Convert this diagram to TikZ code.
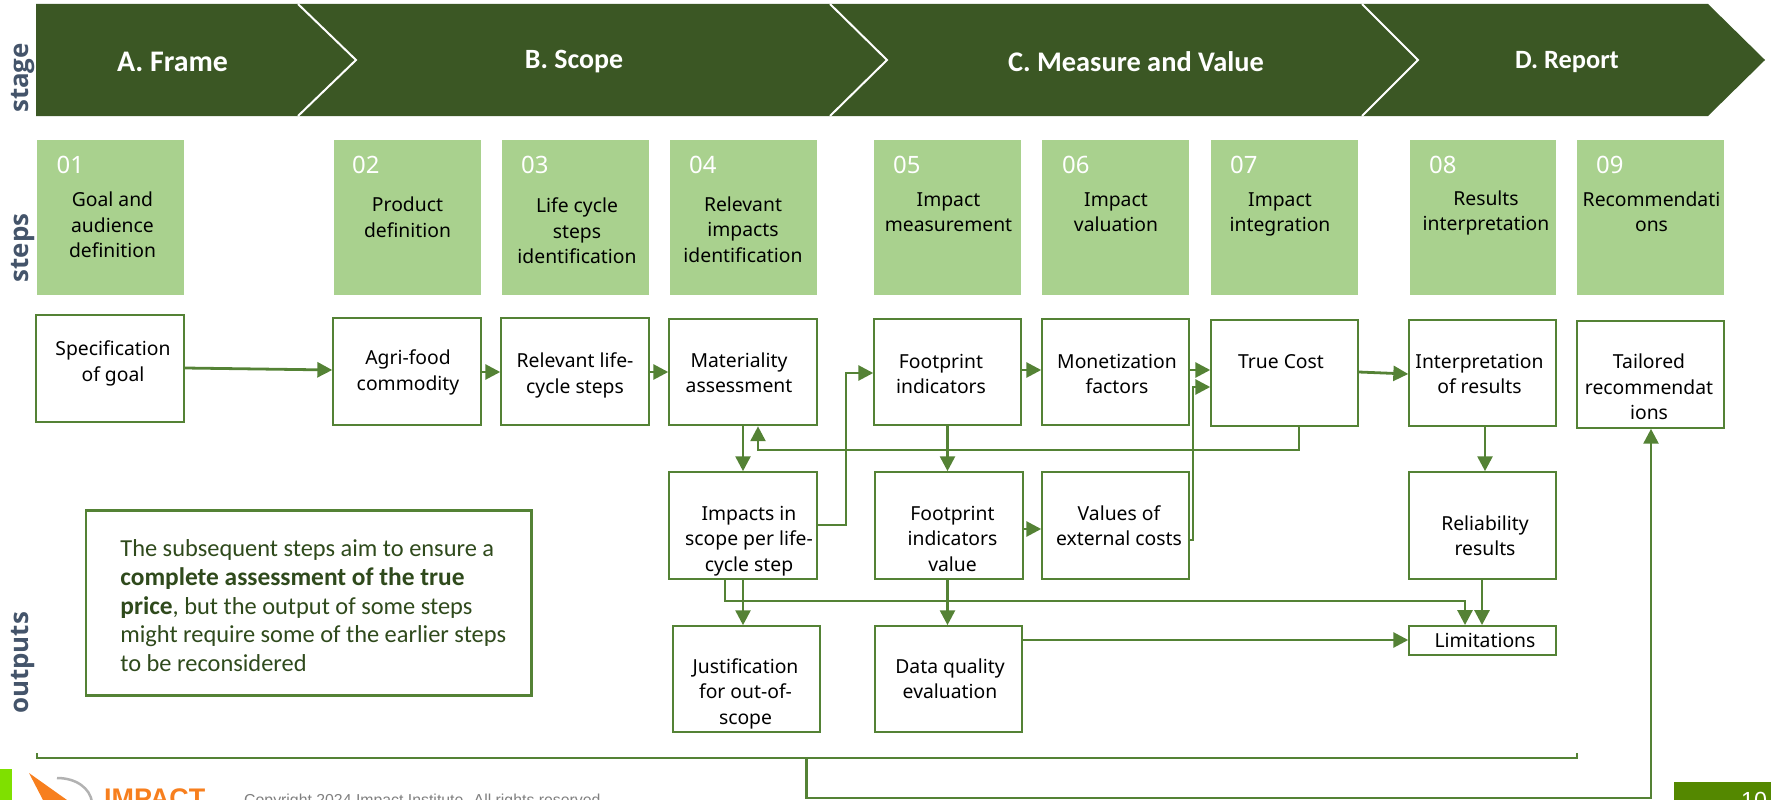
\documentclass[tikz,border=0pt]{standalone}
\usepackage{fontspec}
\setmainfont{Noto Sans}
\newfontfamily\lato{Carlito}
\newfontfamily\sidef{Open Sans}
\newfontfamily\arialf{Liberation Sans}
\usetikzlibrary{arrows.meta}
\definecolor{dkgreen}{HTML}{3B5724}
\definecolor{ltgreen}{HTML}{A9D18E}
\definecolor{lnk}{HTML}{548235}
\definecolor{slate}{HTML}{44546A}
\definecolor{notetx}{HTML}{2F4A1C}
\newcommand{\off}[3]{\makebox[0pt]{\hspace*{#1pt}\raisebox{\dimexpr#2pt-6pt\relax}[0pt][0pt]{\begin{tabular}{@{}c@{}}#3\end{tabular}}}}
\tikzset{
 x=1bp,y=-1bp,
 chev/.style={fill=dkgreen,draw=none},
 chevsep/.style={draw=white,line width=2pt},
 stagetx/.style={text=white,font=\lato\bfseries\fontsize{#1}{#1}\selectfont,inner sep=0pt},
 stepbox/.style={fill=ltgreen,draw=none,minimum width=147.5pt,minimum height=155.5pt,inner sep=0pt,font=\fontsize{19.4}{25.6}\selectfont,text=black},
 stepnum/.style={text=white,font=\fontsize{24}{24}\selectfont,anchor=west,inner sep=0pt},
 outbox/.style={fill=white,draw=lnk,line width=2pt,inner sep=0pt,font=\fontsize{19.4}{25.6}\selectfont,text=black},
 flow/.style={draw=lnk,line width=2.8pt,-{Triangle[length=15pt,width=15pt]}},
 plainl/.style={draw=lnk,line width=1.3pt},
 side/.style={text=slate,font=\sidef\bfseries\fontsize{26}{26}\selectfont,rotate=90,inner sep=0pt},
}
\begin{document}
\begin{tikzpicture}
\useasboundingbox (0,0) rectangle (1771,800);
\clip (0,0) rectangle (1771,800);
% stage band
\fill[chev] (36,4) -- (1708,4) -- (1765,60) -- (1708,116) -- (36,116) -- cycle;
\draw[chevsep] (298,4) -- (356,60) -- (298,116);
\draw[chevsep] (830,4) -- (887,60) -- (830,116);
\draw[chevsep] (1362,4) -- (1418,60) -- (1362,116);
\node[stagetx=30] (sa) at (172.5,62) {A. Frame};
\node[stagetx=28] (sb) at (574,62) {B. Scope};
\node[stagetx=28.5] (sc) at (1136,62) {C. Measure and Value};
\node[stagetx=26.5] (sd) at (1567,62) {D. Report};
% side labels
\node[side] (lstage) at (23,78) {stage};
\node[side] (lsteps) at (23,248) {steps};
\node[side] (loutputs) at (23,663) {outputs};
% steps
\foreach \nm/\cx/\ox/\oy/\txt/\nx/\num in {
 s1/110.5/4/-9/{Goal and\\audience\\definition}/56.5/01,
 s2/407.5/0/-1/{Product\\definition}/352/02,
 s3/575.5/3/-15/{Life cycle\\steps\\identification}/521/03,
 s4/743.5/-1/-13.5/{Relevant\\impacts\\identification}/689/04,
 s5/947.5/2/4.5/{Impact\\measurement}/893/05,
 s6/1115.5/1/4.5/{Impact\\valuation}/1062/06,
 s7/1284.5/-9/4.5/{Impact\\integration}/1230/07,
 s8/1483/6/5.5/{Results\\interpretation}/1429/08,
 s9/1650.5/2/4.5/{Recommendati\\ons}/1596/09}{
 \node[stepbox] (\nm) at (\cx,217.5) {\off{\ox}{\oy}{\txt}};
 \node[stepnum] (n\nm) at (\nx,165) {\num};
}
% outputs
\node[outbox,minimum width=148pt,minimum height=107pt] (spec) at (110,368.5) {\off{6}{6}{Specification\\of goal}};
\node[outbox,minimum width=148pt,minimum height=107pt] (agri) at (407,371.5) {\off{2}{0}{Agri-food\\commodity}};
\node[outbox,minimum width=148pt,minimum height=107pt] (rel) at (575,371.5) {\off{0}{-3}{Relevant life-\\cycle steps}};
\node[outbox,minimum width=148pt,minimum height=107pt] (mat) at (743,372) {\off{-8}{-2}{Materiality\\assessment}};
\node[outbox,minimum width=147pt,minimum height=107pt] (foot) at (947.5,372) {\off{-13}{-3}{Footprint\\indicators}};
\node[outbox,minimum width=147pt,minimum height=107pt] (mon) at (1115.5,372) {\off{3}{-3}{Monetization\\factors}};
\node[outbox,minimum width=147pt,minimum height=106pt] (tc) at (1284.5,373) {\off{-7}{10}{True Cost}};
\node[outbox,minimum width=147pt,minimum height=106pt] (interp) at (1482.5,373) {\off{-6}{-2}{Interpretation\\of results}};
\node[outbox,minimum width=147pt,minimum height=107pt] (tail) at (1650.5,374.5) {\off{-3}{-14}{Tailored\\recommendat\\ions}};
\node[outbox,minimum width=148pt,minimum height=107pt] (imp) at (743,525.5) {\off{12}{-14.5}{Impacts in\\scope per life-\\cycle step}};
\node[outbox,minimum width=148pt,minimum height=107pt] (fv) at (949,525.5) {\off{7}{-14.5}{Footprint\\indicators\\value}};
\node[outbox,minimum width=147pt,minimum height=107pt] (val) at (1115.5,525.5) {\off{7}{-1.5}{Values of\\external costs}};
\node[outbox,minimum width=147pt,minimum height=107pt] (rely) at (1482.5,525.5) {\off{5}{-11.5}{Reliability\\results}};
\node[outbox,minimum width=147pt,minimum height=29pt] (lim) at (1482.5,640.5) {\off{5}{-1}{Limitations}};
\node[outbox,minimum width=147pt,minimum height=106pt] (just) at (746.5,679) {\off{-2}{-14}{Justification\\for out-of-\\scope}};
\node[outbox,minimum width=147pt,minimum height=106pt] (dq) at (948.5,679) {\off{3}{-1}{Data quality\\evaluation}};
% note
\node[draw=lnk,line width=3pt,fill=white,minimum width=447pt,minimum height=186pt,anchor=north west,inner sep=0pt] (note) at (84.5,509) {\hspace*{33pt}\begin{minipage}[c]{411pt}\vspace*{5pt}\raggedright\lato\fontsize{24.5}{28.8}\selectfont\color{notetx}The subsequent steps aim to ensure a\\{\fontsize{25.5}{28.8}\selectfont\bfseries complete assessment of the true}\\{\fontsize{25.5}{28.8}\selectfont\bfseries price}, but the output of some steps\\might require some of the earlier steps\\to be reconsidered\end{minipage}};
% connectors
\coordinate (a1) at (spec.east |- 0,368);
\coordinate (a2) at (agri.west |- 0,370);
\draw[flow] (a1) -- (a2);
\draw[flow] (agri.east |- 0,372) -- (rel.west |- 0,372);
\draw[flow] (rel.east |- 0,372) -- (mat.west |- 0,372);
\draw[flow] (imp.east |- 0,525) -- (846,525) -- (846,373) -- (foot.west |- 0,373);
\draw[flow] (foot.east |- 0,370) -- (mon.west |- 0,370);
\draw[flow] (mon.east |- 0,370) -- (tc.west |- 0,370);
\draw[flow] (val.east |- 0,540) -- (1193,540) -- (1193,387) -- (tc.west |- 0,387);
\draw[flow] (tc.south -| 1299,0) -- (1299,450) -- (758,450) -- (mat.south -| 758,0);
\draw[flow] (mat.south -| 743,0) -- (imp.north -| 743,0);
\draw[flow] (foot.south -| 947.5,0) -- (fv.north -| 947.5,0);
\draw[flow] (fv.east |- 0,529) -- (val.west |- 0,529);
\draw[flow] (imp.south -| 743,0) -- (just.north -| 743,0);
\draw[flow] (imp.south -| 725,0) -- (725,601) -- (1465,601) -- (lim.north -| 1465,0);
\draw[flow] (fv.south -| 947.5,0) -- (dq.north -| 947.5,0);
\draw[flow] (dq.east |- 0,640) -- (lim.west |- 0,640);
\draw[flow] (rely.south -| 1482,0) -- (lim.north -| 1482,0);
\draw[flow] (interp.south -| 1485,0) -- (rely.north -| 1485,0);
\draw[flow] (tc.east |- 0,372) -- (interp.west |- 0,374);
% bracket and long link
\coordinate (bl) at (37,753);
\coordinate (br) at (1577,753);
\draw[plainl] (bl) -- (37,758) -- (1577,758) -- (br);
\coordinate (bm) at (806.5,758);
\draw[flow] (bm) -- (806.5,798) -- (1651,798) -- (tail.south -| 1651,0);
% footer
\fill[color={rgb,255:red,127;green,224;blue,0}] (0,769) rectangle (12,800);
\fill[color={rgb,255:red,84;green,136;blue,0}] (1674,782) rectangle (1771,800);
\fill[color={rgb,255:red,247;green,127;blue,30}] (29,773) -- (67,800) -- (43,800) -- cycle;
\draw[color=gray!60,line width=2.5pt] (57,778) .. controls (76,778) and (90,788) .. (92,802);
\node[anchor=base west,inner sep=0pt,text={rgb,255:red,247;green,127;blue,30},font=\arialf\bfseries\fontsize{27}{27}\selectfont] (brand) at (104,807) {IMPACT};
\node[anchor=base west,inner sep=0pt,text=gray,font=\arialf\fontsize{15.9}{15.9}\selectfont] (copy) at (244,805.5) {Copyright 2024 Impact Institute. All rights reserved.};
\node[anchor=base,inner sep=0pt,text=white,font=\arialf\fontsize{23.4}{23.4}\selectfont] (page) at (1754,808.5) {10};
\end{tikzpicture}
\end{document}
